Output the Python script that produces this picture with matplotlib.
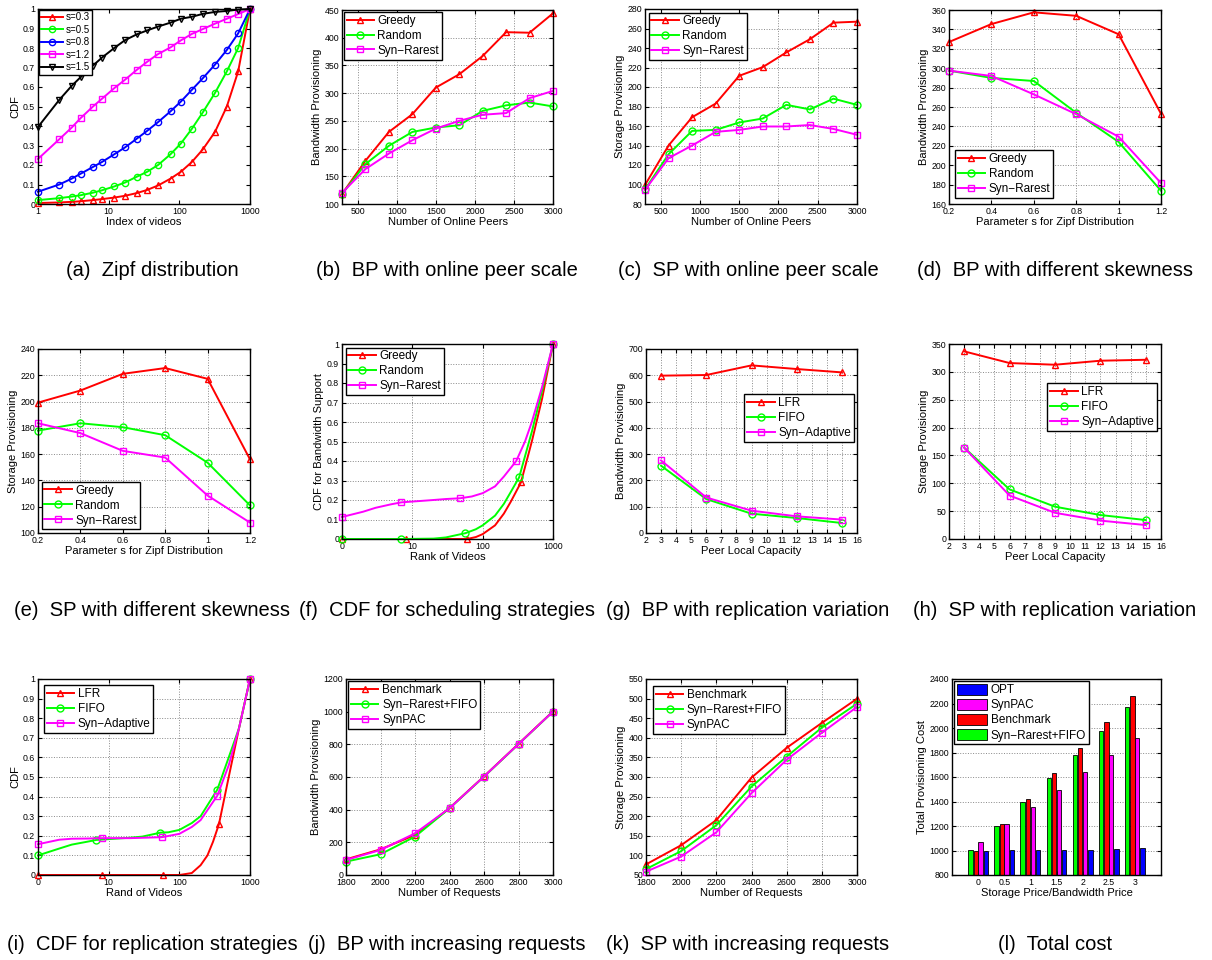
import matplotlib
matplotlib.use("Agg")
import matplotlib.pyplot as plt
from matplotlib.ticker import FormatStrFormatter
import numpy as np

plt.rcParams['font.family'] = ['Liberation Sans', 'DejaVu Sans']

W, H = 1212, 960
RED, GREEN, BLUE, MAG, BLACK = '#ff0000', '#00ff00', '#0000ff', '#ff00ff', '#000000'

######################
### Data
######################
# (a) Zipf distribution
zipf_idx = [1, 2, 3, 4, 6, 8, 12, 17, 25, 35, 50, 75, 105, 150, 215, 320, 470, 680, 1000]
zipf_s03 = [0.005, 0.008, 0.011, 0.014, 0.02, 0.025, 0.033, 0.042, 0.056, 0.072, 0.095,
            0.13, 0.165, 0.215, 0.28, 0.37, 0.5, 0.68, 1.0]
zipf_s05 = [0.02, 0.03, 0.038, 0.045, 0.058, 0.07, 0.09, 0.11, 0.14, 0.165, 0.2,
            0.255, 0.31, 0.385, 0.47, 0.57, 0.68, 0.8, 1.0]
zipf_s08 = [0.063, 0.10, 0.13, 0.155, 0.19, 0.215, 0.255, 0.29, 0.335, 0.375, 0.42,
            0.475, 0.525, 0.585, 0.645, 0.715, 0.79, 0.875, 1.0]
zipf_s12 = [0.231, 0.332, 0.392, 0.44, 0.5, 0.539, 0.594, 0.637, 0.688, 0.729, 0.769,
            0.803, 0.839, 0.872, 0.897, 0.925, 0.95, 0.974, 1.0]
zipf_s15 = [0.395, 0.534, 0.606, 0.65, 0.71, 0.75, 0.80, 0.84, 0.87, 0.89, 0.91,
            0.93, 0.95, 0.96, 0.975, 0.985, 0.99, 0.997, 1.0]

# (b),(c) online peer scale
peers = [300, 600, 900, 1200, 1500, 1800, 2100, 2400, 2700, 3000]
bp_greedy = [118, 178, 230, 262, 310, 334, 367, 410, 409, 444]
bp_random = [118, 172, 205, 230, 238, 242, 268, 278, 283, 276]
bp_rarest = [120, 163, 191, 215, 236, 250, 261, 264, 291, 304]
sp_greedy = [99.5, 140, 169, 183, 211.5, 220.4, 235.5, 249, 266, 267]
sp_random = [95, 131, 155, 156, 163.6, 167.7, 181.7, 177, 188, 181.7]
sp_rarest = [94.4, 127, 140, 154, 156, 159.5, 159.5, 161, 157, 151]

# (d),(e) skewness
skew = [0.2, 0.4, 0.6, 0.8, 1.0, 1.2]
bps_greedy = [327, 345.5, 357.6, 354, 335, 253]
bps_random = [297.5, 290, 286.8, 254, 224, 173.7]
bps_rarest = [297.5, 292, 273, 252.6, 229.4, 181.6]
sps_greedy = [199.2, 208.4, 221.1, 225.5, 217.3, 156]
sps_random = [177.9, 183.5, 180.5, 174.4, 153.5, 121]
sps_rarest = [183.5, 176, 162.5, 157.4, 128.5, 107.9]

# (f) CDF for scheduling strategies
f_greedy_x = [1, 8, 30, 60, 80, 100, 150, 200, 250, 350, 500, 700, 1000]
f_greedy_y = [0, 0, 0, 0, 0.01, 0.025, 0.07, 0.13, 0.19, 0.29, 0.5, 0.72, 1.0]
f_greedy_mk = [0, 1, 3, 9, 12]
f_random_x = [1, 7, 20, 30, 57, 80, 100, 150, 200, 250, 330, 500, 700, 1000]
f_random_y = [0, 0, 0.002, 0.008, 0.03, 0.05, 0.07, 0.12, 0.18, 0.24, 0.316, 0.55, 0.76, 1.0]
f_random_mk = [0, 1, 4, 10, 13]
f_rarest_x = [1, 2, 3, 5, 7, 10, 20, 30, 48, 70, 100, 150, 200, 300, 400, 500, 700, 1000]
f_rarest_y = [0.113, 0.14, 0.16, 0.178, 0.188, 0.192, 0.2, 0.205, 0.209, 0.218, 0.235,
              0.27, 0.32, 0.40, 0.5, 0.6, 0.78, 1.0]
f_rarest_mk = [0, 4, 8, 13, 17]

# (g),(h) replication variation
capacity = [3, 6, 9, 12, 15]
bpr_lfr = [598.6, 601, 637.7, 623.8, 611]
bpr_fifo = [256, 129, 73.5, 57, 38]
bpr_adapt = [276, 135, 85, 63.4, 51]
spr_lfr = [336.8, 315.8, 312.8, 320, 321.7]
spr_fifo = [164, 89, 58, 43, 34]
spr_adapt = [164, 78, 47, 33, 25]

# (i) CDF for replication strategies
i_lfr_x = [1, 8, 58, 100, 150, 200, 250, 300, 364, 500, 700, 1000]
i_lfr_y = [0, 0, 0, 0, 0.01, 0.05, 0.1, 0.17, 0.26, 0.5, 0.75, 1.0]
i_lfr_mk = [0, 1, 2, 8, 11]
i_fifo_x = [1, 2, 3, 5, 6.7, 10, 20, 30, 54, 70, 100, 150, 200, 345, 500, 700, 1000]
i_fifo_y = [0.10, 0.135, 0.155, 0.17, 0.179, 0.183, 0.19, 0.196, 0.216, 0.218, 0.23,
            0.265, 0.30, 0.436, 0.6, 0.75, 1.0]
i_fifo_mk = [0, 4, 8, 13, 16]
i_adapt_x = [1, 2, 3, 5, 8, 20, 57, 100, 150, 200, 345, 500, 700, 1000]
i_adapt_y = [0.157, 0.18, 0.185, 0.186, 0.188, 0.188, 0.193, 0.21, 0.245, 0.28, 0.405,
             0.56, 0.75, 1.0]
i_adapt_mk = [0, 4, 6, 10, 13]

# (j),(k) increasing requests
requests = [1800, 2000, 2200, 2400, 2600, 2800, 3000]
bpq_bench = [96, 157, 245, 410, 604, 803, 1002]
bpq_rarest = [82, 127, 235, 408, 602, 801, 1000]
bpq_synpac = [92, 153, 255, 409, 603, 802, 1001]
spq_bench = [77, 126, 190, 298.5, 374.5, 438, 499.6]
spq_rarest = [65, 111, 177, 275.5, 352, 426, 487]
spq_synpac = [58.5, 97, 159, 258.7, 344, 413, 478.7]

# (l) total cost
price_ratio = [0, 0.5, 1, 1.5, 2, 2.5, 3]
cost_rarest = [1005, 1198, 1395, 1588, 1776, 1978, 2171]
cost_bench = [998, 1215, 1420, 1632, 1839, 2046, 2258]
cost_synpac = [1072, 1215, 1357, 1493, 1637, 1776, 1918]
cost_opt = [998, 1005, 1005, 1008, 1008, 1013, 1019]

captions = ["(a)  Zipf distribution", "(b)  BP with online peer scale",
            "(c)  SP with online peer scale", "(d)  BP with different skewness",
            "(e)  SP with different skewness", "(f)  CDF for scheduling strategies",
            "(g)  BP with replication variation", "(h)  SP with replication variation",
            "(i)  CDF for replication strategies", "(j)  BP with increasing requests",
            "(k)  SP with increasing requests", "(l)  Total cost"]

######################
### Helpers
######################
fig = plt.figure(figsize=(W / 100, H / 100), dpi=100)


def make_axes(left, top, right, bottom):
    return fig.add_axes([left / W, 1 - bottom / H, (right - left) / W, (bottom - top) / H])


def style(ax, xlabel, ylabel, grid=True):
    ax.tick_params(direction='in', top=True, right=True, labelsize=6.3, length=3, pad=2)
    ax.tick_params(which='minor', direction='in', top=True, right=True, length=1.5)
    for s in ax.spines.values():
        s.set_linewidth(1.0)
    ax.set_xlabel(xlabel, fontsize=8, labelpad=1)
    ax.set_ylabel(ylabel, fontsize=8, labelpad=2)
    if grid:
        ax.grid(True, linestyle=':', color='#888888', linewidth=0.7)
    ax.set_axisbelow(True)


def plot_line(ax, x, y, color, marker, label, ms=5, markevery=None):
    ax.plot(x, y, color=color, marker=marker, mfc='none', mec=color, ms=ms,
            lw=1.4, mew=1.0, label=label, markevery=markevery, clip_on=False)


def legend(ax, loc, fs=8.5, hl=2.3, **kw):
    lg = ax.legend(loc=loc, fontsize=fs, fancybox=False, framealpha=1, edgecolor='k',
                   handlelength=hl, borderpad=0.25, labelspacing=0.25, handletextpad=0.3, **kw)
    lg.get_frame().set_linewidth(1.0)
    return lg


def log_cdf_axes(ax, first_label):
    ax.set_xscale('log')
    ax.set_xlim(1, 1000)
    ax.set_xticks([1, 10, 100, 1000])
    ax.set_xticklabels([first_label, '10', '100', '1000'])
    ax.minorticks_off()
    ax.set_ylim(0, 1)
    ax.set_yticks(np.arange(0, 1.01, 0.1))
    ax.yaxis.set_major_formatter(FormatStrFormatter('%g'))


######################
### (a)
######################
ax = make_axes(38, 9, 250, 204)
plot_line(ax, zipf_idx, zipf_s03, RED, '^', 's=0.3', ms=4.5)
plot_line(ax, zipf_idx, zipf_s05, GREEN, 'o', 's=0.5', ms=4.5)
plot_line(ax, zipf_idx, zipf_s08, BLUE, 'o', 's=0.8', ms=4.5)
plot_line(ax, zipf_idx, zipf_s12, MAG, 's', 's=1.2', ms=4.5)
plot_line(ax, zipf_idx, zipf_s15, BLACK, 'v', 's=1.5', ms=4.5)
log_cdf_axes(ax, '1')
style(ax, 'Index of videos', 'CDF', grid=False)
legend(ax, 'upper left', fs=7, hl=2.2, borderaxespad=0.1)

######################
### (b) (c)
######################
ax = make_axes(342, 10, 553, 204)
plot_line(ax, peers, bp_greedy, RED, '^', 'Greedy')
plot_line(ax, peers, bp_random, GREEN, 'o', 'Random')
plot_line(ax, peers, bp_rarest, MAG, 's', 'Syn\u2212Rarest')
ax.set_xlim(300, 3000)
ax.set_xticks(range(500, 3001, 500))
ax.set_ylim(100, 450)
ax.set_yticks(range(100, 451, 50))
style(ax, 'Number of Online Peers', 'Bandwidth Provisioning')
legend(ax, 'upper left', borderaxespad=0.15)

ax = make_axes(645, 9, 857, 204)
plot_line(ax, peers, sp_greedy, RED, '^', 'Greedy')
plot_line(ax, peers, sp_random, GREEN, 'o', 'Random')
plot_line(ax, peers, sp_rarest, MAG, 's', 'Syn\u2212Rarest')
ax.set_xlim(300, 3000)
ax.set_xticks(range(500, 3001, 500))
ax.set_ylim(80, 280)
ax.set_yticks(range(80, 281, 20))
style(ax, 'Number of Online Peers', 'Storage Provisioning')
legend(ax, 'upper left', borderaxespad=0.3)

######################
### (d) (e)
######################
ax = make_axes(949, 10, 1161, 204)
plot_line(ax, skew, bps_greedy, RED, '^', 'Greedy')
plot_line(ax, skew, bps_random, GREEN, 'o', 'Random')
plot_line(ax, skew, bps_rarest, MAG, 's', 'Syn\u2212Rarest')
ax.set_xlim(0.2, 1.2)
ax.set_xticks(skew)
ax.xaxis.set_major_formatter(FormatStrFormatter('%g'))
ax.set_ylim(160, 360)
ax.set_yticks(range(160, 361, 20))
style(ax, 'Parameter s for Zipf Distribution', 'Bandwidth Provisioning')
legend(ax, 'lower left', borderaxespad=0.5)

ax = make_axes(38, 349, 250, 533)
plot_line(ax, skew, sps_greedy, RED, '^', 'Greedy')
plot_line(ax, skew, sps_random, GREEN, 'o', 'Random')
plot_line(ax, skew, sps_rarest, MAG, 's', 'Syn\u2212Rarest')
ax.set_xlim(0.2, 1.2)
ax.set_xticks(skew)
ax.xaxis.set_major_formatter(FormatStrFormatter('%g'))
ax.set_ylim(100, 240)
ax.set_yticks(range(100, 241, 20))
style(ax, 'Parameter s for Zipf Distribution', 'Storage Provisioning')
legend(ax, 'lower left', borderaxespad=0.3)

######################
### (f)
######################
ax = make_axes(342, 344, 553, 539)
plot_line(ax, f_greedy_x, f_greedy_y, RED, '^', 'Greedy', markevery=f_greedy_mk)
plot_line(ax, f_random_x, f_random_y, GREEN, 'o', 'Random', markevery=f_random_mk)
plot_line(ax, f_rarest_x, f_rarest_y, MAG, 's', 'Syn\u2212Rarest', markevery=f_rarest_mk)
log_cdf_axes(ax, '0')
style(ax, 'Rank of Videos', 'CDF for Bandwidth Support')
legend(ax, 'upper left', borderaxespad=0.3)

######################
### (g) (h)
######################
ax = make_axes(646, 349, 857, 533)
plot_line(ax, capacity, bpr_lfr, RED, '^', 'LFR')
plot_line(ax, capacity, bpr_fifo, GREEN, 'o', 'FIFO')
plot_line(ax, capacity, bpr_adapt, MAG, 's', 'Syn\u2212Adaptive')
ax.set_xlim(2, 16)
ax.set_xticks(range(2, 17))
ax.set_ylim(0, 700)
ax.set_yticks(range(0, 701, 100))
style(ax, 'Peer Local Capacity', 'Bandwidth Provisioning')
legend(ax, 'upper right', bbox_to_anchor=(0.985, 0.755), borderaxespad=0)

ax = make_axes(949, 344, 1161, 539)
plot_line(ax, capacity, spr_lfr, RED, '^', 'LFR')
plot_line(ax, capacity, spr_fifo, GREEN, 'o', 'FIFO')
plot_line(ax, capacity, spr_adapt, MAG, 's', 'Syn\u2212Adaptive')
ax.set_xlim(2, 16)
ax.set_xticks(range(2, 17))
ax.set_ylim(0, 350)
ax.set_yticks(range(0, 351, 50))
style(ax, 'Peer Local Capacity', 'Storage Provisioning')
legend(ax, 'upper right', bbox_to_anchor=(0.98, 0.8), borderaxespad=0)

######################
### (i)
######################
ax = make_axes(38, 679, 250, 875)
plot_line(ax, i_lfr_x, i_lfr_y, RED, '^', 'LFR', markevery=i_lfr_mk)
plot_line(ax, i_fifo_x, i_fifo_y, GREEN, 'o', 'FIFO', markevery=i_fifo_mk)
plot_line(ax, i_adapt_x, i_adapt_y, MAG, 's', 'Syn\u2212Adaptive', markevery=i_adapt_mk)
log_cdf_axes(ax, '0')
style(ax, 'Rand of Videos', 'CDF')
legend(ax, 'upper left', borderaxespad=0.5)

######################
### (j) (k)
######################
ax = make_axes(346, 679, 553, 875)
plot_line(ax, requests, bpq_bench, RED, '^', 'Benchmark')
plot_line(ax, requests, bpq_rarest, GREEN, 'o', 'Syn\u2212Rarest+FIFO')
plot_line(ax, requests, bpq_synpac, MAG, 's', 'SynPAC')
ax.set_xlim(1800, 3000)
ax.set_xticks(requests)
ax.set_ylim(0, 1200)
ax.set_yticks(range(0, 1201, 200))
style(ax, 'Number of Requests', 'Bandwidth Provisioning')
legend(ax, 'upper left', borderaxespad=0.2)

ax = make_axes(646, 679, 857, 875)
plot_line(ax, requests, spq_bench, RED, '^', 'Benchmark')
plot_line(ax, requests, spq_rarest, GREEN, 'o', 'Syn\u2212Rarest+FIFO')
plot_line(ax, requests, spq_synpac, MAG, 's', 'SynPAC')
ax.set_xlim(1800, 3000)
ax.set_xticks(requests)
ax.set_ylim(50, 550)
ax.set_yticks(range(50, 551, 50))
style(ax, 'Number of Requests', 'Storage Provisioning')
legend(ax, 'upper left', borderaxespad=0.6)

######################
### (l) total cost bars
######################
ax = make_axes(952, 679, 1161, 875)
x = np.array(price_ratio)
bw = 0.085
ax.bar(x - 0.147, cost_rarest, bw, color=GREEN, edgecolor='k', linewidth=0.6)
ax.bar(x - 0.045, cost_bench, bw, color=RED, edgecolor='k', linewidth=0.6)
ax.bar(x + 0.045, cost_synpac, bw, color=MAG, edgecolor='k', linewidth=0.6)
ax.bar(x + 0.147, cost_opt, bw, color=BLUE, edgecolor='k', linewidth=0.6)
ax.set_xlim(-0.5, 3.5)
ax.set_xticks(price_ratio)
ax.xaxis.set_major_formatter(FormatStrFormatter('%g'))
ax.set_ylim(800, 2400)
ax.set_yticks(range(800, 2401, 200))
style(ax, 'Storage Price/Bandwidth Price', 'Total Provisioning Cost', grid=False)
ax.grid(True, axis='y', linestyle=':', color='#888888', linewidth=0.7)
ax.tick_params(top=False)
hs = [plt.Rectangle((0, 0), 1, 1, facecolor=c, edgecolor='k', linewidth=0.6)
      for c in (BLUE, MAG, RED, GREEN)]
lg = ax.legend(hs, ['OPT', 'SynPAC', 'Benchmark', 'Syn\u2212Rarest+FIFO'], loc='upper left',
               fontsize=8.5, fancybox=False, framealpha=1, edgecolor='k', borderaxespad=0.15,
               handlelength=2.6, handleheight=1.1, borderpad=0.25, labelspacing=0.2,
               handletextpad=0.3)
lg.get_frame().set_linewidth(1.0)

######################
### Captions
######################
cap_x = [152, 447, 748, 1055]
cap_y = [270, 610, 945]
for k, text in enumerate(captions):
    r, c = divmod(k, 4)
    fig.text(cap_x[c] / W, 1 - cap_y[r] / H, text, ha='center', va='center', fontsize=14.5)

plt.savefig('out.png', dpi=100)
